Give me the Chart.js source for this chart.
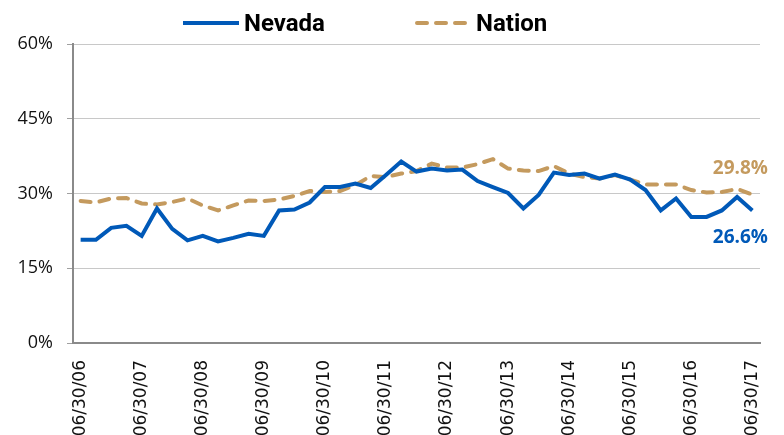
<!DOCTYPE html>
<html>
<head>
<meta charset="utf-8">
<script src="https://cdn.jsdelivr.net/npm/chart.js@4"></script>
<style>
  html, body { margin: 0; padding: 0; background: #fff; }
  #wrap { position: relative; width: 784px; height: 435px; }
</style>
</head>
<body>
<div id="wrap"><canvas id="rateChart"></canvas></div>
<script>
// quarter-end dates, 06/30/06 .. 06/30/17
const categories = [
    "06/30/06", "09/30/06", "12/31/06", "03/31/07",
    "06/30/07", "09/30/07", "12/31/07", "03/31/08",
    "06/30/08", "09/30/08", "12/31/08", "03/31/09",
    "06/30/09", "09/30/09", "12/31/09", "03/31/10",
    "06/30/10", "09/30/10", "12/31/10", "03/31/11",
    "06/30/11", "09/30/11", "12/31/11", "03/31/12",
    "06/30/12", "09/30/12", "12/31/12", "03/31/13",
    "06/30/13", "09/30/13", "12/31/13", "03/31/14",
    "06/30/14", "09/30/14", "12/31/14", "03/31/15",
    "06/30/15", "09/30/15", "12/31/15", "03/31/16",
    "06/30/16", "09/30/16", "12/31/16", "03/31/17",
    "06/30/17"
];

const nevada = [
    20.7, 20.7, 23.1, 23.5, 21.5, 27.0, 22.9, 20.6, 21.5, 20.4, 21.1, 21.9,
    21.5, 26.6, 26.8, 28.2, 31.3, 31.3, 32.0, 31.1, 33.7, 36.4, 34.4, 35.0,
    34.6, 34.8, 32.5, 31.3, 30.1, 27.0, 29.7, 34.2, 33.7, 34.0, 33.0, 33.8,
    32.8, 30.7, 26.6, 29.0, 25.3, 25.3, 26.6, 29.3, 26.6
];

const nation = [
    28.5, 28.2, 29.0, 29.1, 28.0, 27.8, 28.3, 29.0, 27.6, 26.6, 27.6, 28.6,
    28.5, 28.8, 29.5, 30.5, 30.3, 30.5, 31.7, 33.5, 33.3, 34.0, 34.5, 36.0,
    35.2, 35.2, 35.9, 36.9, 35.0, 34.6, 34.5, 35.5, 34.0, 33.3, 33.0, 33.7,
    32.8, 31.8, 31.8, 31.8, 30.7, 30.2, 30.3, 30.9, 29.8
];

const yTicks = [0, 15, 30, 45, 60];

const BLUE = "#0059b8";
const TAN = "#c49a5e";

// legend drawn at the top, samples use the dataset styles
const topLegend = {
    id: "topLegend",
    afterDraw(chart) {
        const c = chart.ctx;
        const ds = chart.data.datasets;
        const items = [
            { d: ds[0], x1: 183, x2: 239, tx: 244 },
            { d: ds[1], x1: 415, x2: 465, tx: 476 }
        ];
        c.save();
        items.forEach(it => {
            c.beginPath();
            c.strokeStyle = it.d.borderColor;
            c.lineWidth = it.d.borderWidth;
            c.lineCap = it.d.borderCapStyle || "butt";
            c.setLineDash(it.d.borderDash || []);
            c.moveTo(it.x1 + (it.d.borderDash ? 2 : 0), 23);
            c.lineTo(it.x2, 23);
            c.stroke();
            c.setLineDash([]);
            c.fillStyle = "#000";
            c.font = "bold 24px Roboto";
            c.textBaseline = "alphabetic";
            c.textAlign = "left";
            c.fillText(it.d.label, it.tx, 31);
        });
        c.restore();
    }
};

// end-of-series value labels
const endLabels = {
    id: "endLabels",
    afterDatasetsDraw(chart) {
        const c = chart.ctx;
        c.save();
        c.font = "bold 19px 'Open Sans'";
        c.textAlign = "center";
        c.textBaseline = "middle";
        chart.data.datasets.forEach((d, i) => {
            const pts = chart.getDatasetMeta(i).data;
            const last = pts[pts.length - 1];
            const val = d.data[d.data.length - 1];
            c.fillStyle = d.borderColor;
            const dy = i === 0 ? 27 : -26;
            c.fillText(val.toFixed(1) + "%", last.x - 12, last.y + dy);
        });
        c.restore();
    }
};

const ctx = document.getElementById("rateChart");

new Chart(ctx, {
    type: "line",
    data: {
        labels: categories,
        datasets: [
            {
                label: "Nevada",
                data: nevada,
                borderColor: BLUE,
                backgroundColor: BLUE,
                borderWidth: 4,
                tension: 0,
                pointRadius: 0,
                fill: false
            },
            {
                label: "Nation",
                data: nation,
                borderColor: TAN,
                backgroundColor: TAN,
                borderWidth: 4,
                borderDash: [10, 9],
                borderCapStyle: "round",
                tension: 0,
                pointRadius: 0,
                fill: false
            }
        ]
    },
    options: {
        responsive: true,
        maintainAspectRatio: false,
        animation: false,
        layout: {
            padding: { top: 44, right: 24, bottom: 0, left: 0 }
        },
        scales: {
            x: {
                offset: true,
                grid: { display: false },
                border: { display: true, color: "#8a8a8a", width: 2 },
                ticks: {
                    autoSkip: false,
                    minRotation: 90,
                    maxRotation: 90,
                    padding: 9,
                    color: "#111",
                    font: { family: "DejaVu Sans", size: 17 },
                    callback: function (v, i) {
                        return i % 4 === 0 ? categories[i] : "";
                    }
                },
                afterFit: s => { s.height = 92; }
            },
            y: {
                min: 0,
                max: 60,
                afterBuildTicks: s => { s.ticks = yTicks.map(v => ({ value: v })); },
                grid: {
                    color: "#c8c8c8",
                    lineWidth: 1,
                    tickLength: 6,
                    tickColor: "#a0a0a0"
                },
                border: { display: true, color: "#8a8a8a", width: 2 },
                ticks: {
                    padding: 14,
                    color: "#111",
                    font: { family: "Open Sans", size: 18 },
                    callback: v => v + "%"
                },
                afterFit: s => { s.width = 73; }
            }
        },
        plugins: {
            legend: { display: false },
            tooltip: { enabled: false }
        }
    },
    plugins: [endLabels, topLegend]
});
</script>
</body>
</html>
